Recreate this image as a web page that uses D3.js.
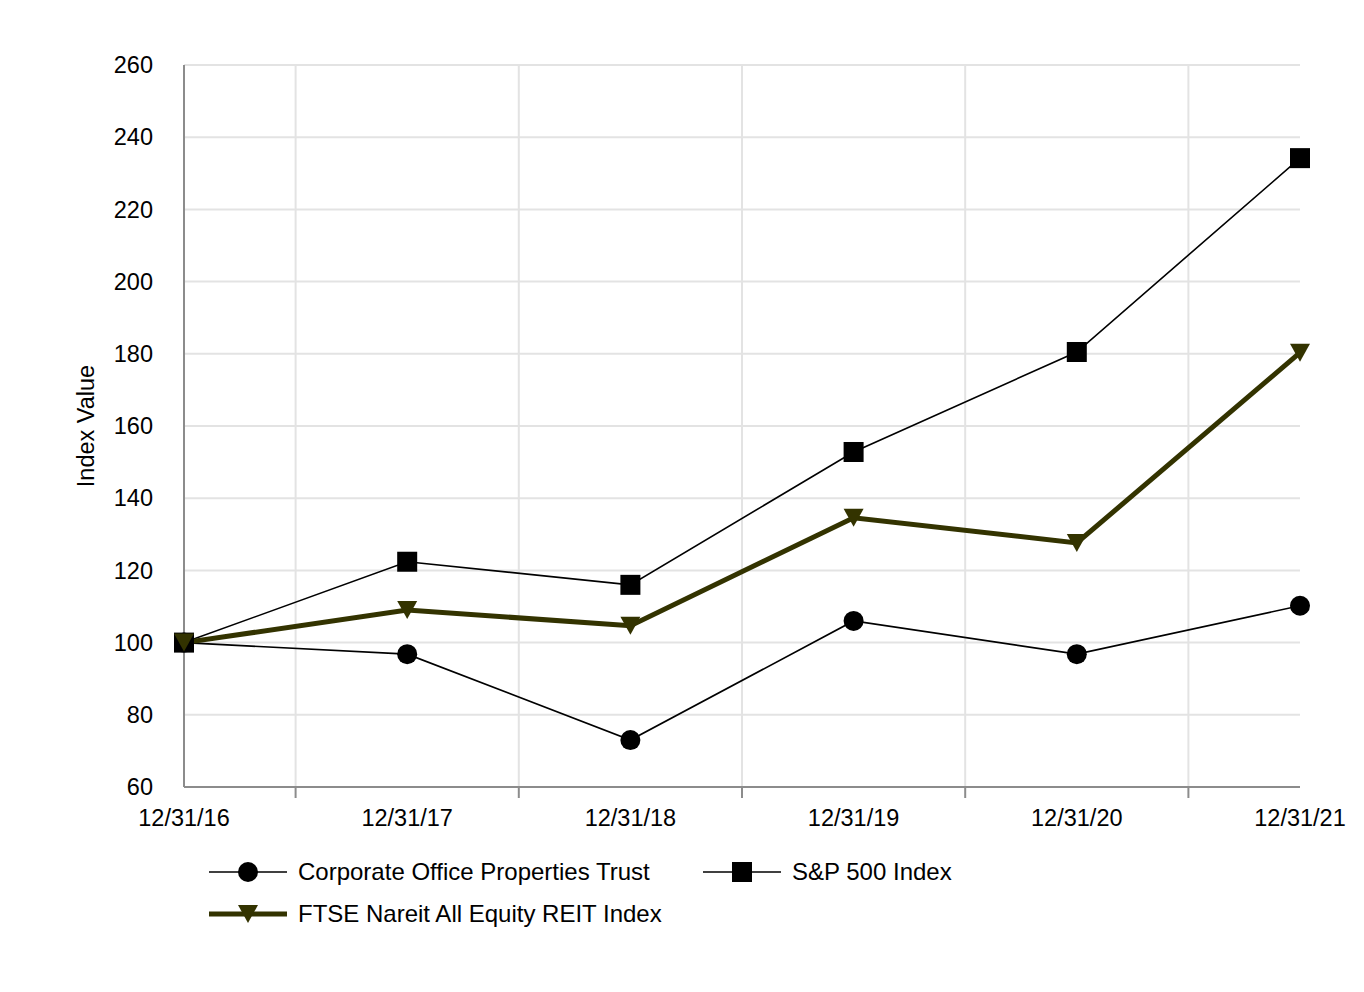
<!DOCTYPE html>
<html>
<head>
<meta charset="utf-8">
<script src="https://cdn.jsdelivr.net/npm/d3@7"></script>
<style>
  body { margin: 0; background: #fff; }
  text { font-family: "Liberation Sans", Arial, sans-serif; fill: #000; }
</style>
</head>
<body>
<div id="chart"></div>
<script>
var dates = ["12/31/16", "12/31/17", "12/31/18", "12/31/19", "12/31/20", "12/31/21"];
var copt = [100, 96.8, 73, 106, 96.8, 110.2];
var sp500 = [100, 122.4, 116, 152.8, 180.5, 234.2];
var ftse = [100, 109, 104.7, 134.6, 127.6, 180.3];
var yTicks = [60, 80, 100, 120, 140, 160, 180, 200, 220, 240, 260];

var width = 1364, height = 992;
var margin = { left: 184, right: 64, top: 65, bottom: 205 };

var svg = d3.select("#chart")
    .append("svg")
    .attr("width", width)
    .attr("height", height);

var x = d3.scalePoint()
    .domain(dates)
    .range([margin.left, width - margin.right]);

var y = d3.scaleLinear()
    .domain([60, 260])
    .range([height - margin.bottom, margin.top]);

// midpoints between the dates carry the vertical grid and ticks
var mids = d3.pairs(dates).map(function (p) { return (x(p[0]) + x(p[1])) / 2; });

var grid = svg.append("g");
grid.selectAll("line.h")
    .data(yTicks.slice(1))
    .enter()
    .append("line")
    .attr("x1", x.range()[0])
    .attr("x2", x.range()[1])
    .attr("y1", function (d) { return y(d); })
    .attr("y2", function (d) { return y(d); })
    .attr("stroke", "#e3e3e3")
    .attr("stroke-width", 2);

grid.selectAll("line.v")
    .data(mids)
    .enter()
    .append("line")
    .attr("x1", function (d) { return d; })
    .attr("x2", function (d) { return d; })
    .attr("y1", y(260))
    .attr("y2", y(60))
    .attr("stroke", "#e3e3e3")
    .attr("stroke-width", 2);

// axes lines
svg.append("line")
    .attr("x1", x.range()[0]).attr("x2", x.range()[0])
    .attr("y1", y(260)).attr("y2", y(60))
    .attr("stroke", "#8c8c8c").attr("stroke-width", 2);
svg.append("line")
    .attr("x1", x.range()[0]).attr("x2", x.range()[1])
    .attr("y1", y(60)).attr("y2", y(60))
    .attr("stroke", "#8c8c8c").attr("stroke-width", 2);
svg.selectAll("line.tick")
    .data(mids)
    .enter()
    .append("line")
    .attr("x1", function (d) { return d; })
    .attr("x2", function (d) { return d; })
    .attr("y1", y(60))
    .attr("y2", y(60) + 11)
    .attr("stroke", "#8c8c8c")
    .attr("stroke-width", 2);

// tick labels
svg.selectAll("text.ylab")
    .data(yTicks)
    .enter()
    .append("text")
    .attr("x", 153)
    .attr("y", function (d) { return y(d); })
    .attr("dy", "0.35em")
    .attr("text-anchor", "end")
    .style("font-size", "23.5px")
    .text(function (d) { return d; });

svg.selectAll("text.xlab")
    .data(dates)
    .enter()
    .append("text")
    .attr("x", function (d) { return x(d); })
    .attr("y", 826)
    .attr("text-anchor", "middle")
    .style("font-size", "23.5px")
    .text(function (d) { return d; });

svg.append("text")
    .attr("transform", "translate(94," + (y(160)) + ") rotate(-90)")
    .attr("text-anchor", "middle")
    .style("font-size", "23.5px")
    .text("Index Value");

var series = [
    { name: "Corporate Office Properties Trust", values: copt, color: "#000", width: 1.6, shape: "circle" },
    { name: "S&P 500 Index", values: sp500, color: "#000", width: 1.6, shape: "square" },
    { name: "FTSE Nareit All Equity REIT Index", values: ftse, color: "#333300", width: 5, shape: "triangle" }
];

var line = d3.line()
    .x(function (d, i) { return x(dates[i]); })
    .y(function (d) { return y(d); });

function marker(g, shape, color) {
    if (shape === "circle") {
        g.append("circle").attr("r", 10).attr("fill", color);
    } else if (shape === "square") {
        g.append("rect").attr("x", -10).attr("y", -10).attr("width", 20).attr("height", 20).attr("fill", color);
    } else {
        g.append("path").attr("d", "M-10,-9L10,-9L0,9Z").attr("fill", color);
    }
}

series.forEach(function (s) {
    svg.append("path")
        .datum(s.values)
        .attr("d", line)
        .attr("fill", "none")
        .attr("stroke", s.color)
        .attr("stroke-width", s.width)
        .attr("stroke-linejoin", "miter");
});

series.forEach(function (s) {
    s.values.forEach(function (v, i) {
        var g = svg.append("g")
            .attr("transform", "translate(" + x(dates[i]) + "," + y(v) + ")");
        marker(g, s.shape, s.color);
    });
});

// legend
var legendPos = [[209, 872], [703, 872], [209, 914]];
series.forEach(function (s, i) {
    var lg = svg.append("g")
        .attr("transform", "translate(" + legendPos[i][0] + "," + legendPos[i][1] + ")");
    lg.append("line")
        .attr("x1", 0).attr("x2", 78)
        .attr("stroke", s.color)
        .attr("stroke-width", s.width);
    var m = lg.append("g").attr("transform", "translate(39,0)");
    marker(m, s.shape, s.color);
    lg.append("text")
        .attr("x", 89)
        .attr("dy", "0.35em")
        .style("font-size", "24px")
        .text(s.name);
});
</script>
</body>
</html>
